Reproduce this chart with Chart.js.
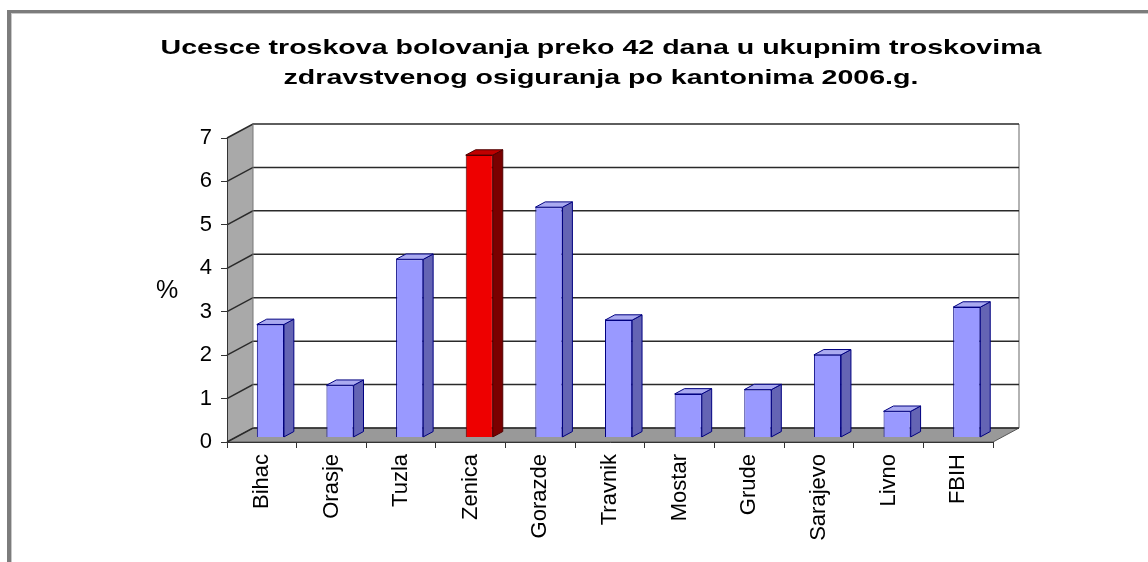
<!DOCTYPE html>
<html>
<head>
<meta charset="utf-8">
<script src="https://cdn.jsdelivr.net/npm/chart.js@4.4.1/dist/chart.umd.min.js"></script>
<style>
  html, body { margin: 0; padding: 0; background: #ffffff; }
  #wrap { width: 1148px; height: 562px; position: relative; }
</style>
</head>
<body>
<div id="wrap"><canvas id="chart" width="1148" height="562"></canvas></div>
<script>
// Cantons and their share (%) of sick-leave costs over 42 days
const categories = ['Bihac', 'Orasje', 'Tuzla', 'Zenica', 'Gorazde', 'Travnik', 'Mostar', 'Grude', 'Sarajevo', 'Livno', 'FBIH'];
const shareValues = [2.6, 1.2, 4.1, 6.5, 5.3, 2.7, 1.0, 1.1, 1.9, 0.6, 3.0];
const highlighted = 'Zenica';
const yTicks = [0, 1, 2, 3, 4, 5, 6, 7];
const titleLines = ['Ucesce troskova bolovanja preko 42 dana u ukupnim troskovima',
                    'zdravstvenog osiguranja po kantonima 2006.g.'];
const axisUnit = '%';

// 3D look: depth of the box and where the bars sit inside it
const DEPTH = { dx: 26, dy: -14 };
const BAR_FRONT = 0.33;  // fraction of depth where bar front faces stand
const BAR_DEPTH = 0.38;  // fraction of depth taken by each bar

const faceColors = categories.map(c => c === highlighted ? '#ee0000' : '#9999ff');
const sideColors = categories.map(c => c === highlighted ? '#7a0000' : '#6464b4');
const topColors  = categories.map(c => c === highlighted ? '#c00000' : '#aaaaf0');
const edgeColors = categories.map(c => c === highlighted ? '#500000' : '#000080');

const FONT = '"Liberation Sans", Arial, sans-serif';

const box3d = {
  id: 'box3d',
  beforeDraw(chart) {
    const { ctx, chartArea: a, scales } = chart;
    const y = scales.y;
    ctx.save();
    // outer frame (top and left edges)
    ctx.fillStyle = '#7c7c7c';
    ctx.fillRect(7, 10, 1148 - 7, 3);
    ctx.fillRect(7, 10, 4, 562 - 10);
    ctx.fillStyle = '#c8c8c8';
    ctx.fillRect(11, 13, 1148 - 11, 1);
    ctx.fillRect(11, 13, 1, 562 - 13);

    // two-line title, slightly widened
    ctx.fillStyle = '#000000';
    ctx.font = 'bold 21px ' + FONT;
    ctx.textAlign = 'center';
    ctx.textBaseline = 'middle';
    titleLines.forEach((line, i) => {
      ctx.save();
      ctx.translate(601, 48 + i * 30);
      ctx.scale(1.36, 1);
      ctx.fillText(line, 0, 0);
      ctx.restore();
    });

    const L = a.left, R = a.right, T = a.top, B = a.bottom;
    const dx = DEPTH.dx, dy = DEPTH.dy;
    // side wall
    ctx.fillStyle = '#a9a9a9';
    ctx.beginPath();
    ctx.moveTo(L, B); ctx.lineTo(L, T); ctx.lineTo(L + dx, T + dy); ctx.lineTo(L + dx, B + dy); ctx.closePath();
    ctx.fill();
    // floor
    ctx.fillStyle = '#999999';
    ctx.beginPath();
    ctx.moveTo(L, B); ctx.lineTo(R, B); ctx.lineTo(R + dx, B + dy); ctx.lineTo(L + dx, B + dy); ctx.closePath();
    ctx.fill();
    ctx.strokeStyle = '#555555';
    ctx.lineWidth = 1;
    ctx.stroke();
    // back wall right edge
    ctx.strokeStyle = '#9a9a9a';
    ctx.lineWidth = 1.5;
    ctx.beginPath();
    ctx.moveTo(R + dx, T + dy); ctx.lineTo(R + dx, B + dy);
    ctx.stroke();
    // grid lines on back wall and side wall
    ctx.strokeStyle = '#2a2a2a';
    ctx.lineWidth = 1.5;
    yTicks.forEach(v => {
      const py = y.getPixelForValue(v);
      ctx.beginPath();
      ctx.moveTo(L, py); ctx.lineTo(L + dx, py + dy); ctx.lineTo(R + dx, py + dy);
      ctx.stroke();
    });
    // back-left edge of the box
    ctx.strokeStyle = '#777777';
    ctx.lineWidth = 1;
    ctx.beginPath();
    ctx.moveTo(L + dx, T + dy); ctx.lineTo(L + dx, B + dy);
    ctx.stroke();
    // unit label
    ctx.fillStyle = '#000000';
    ctx.font = '25px ' + FONT;
    ctx.textAlign = 'center';
    ctx.textBaseline = 'middle';
    ctx.fillText(axisUnit, 167, 291);
    ctx.restore();
  },
  beforeDatasetsDraw(chart) {
    const ctx = chart.ctx;
    ctx.save();
    ctx.translate(DEPTH.dx * BAR_FRONT, DEPTH.dy * BAR_FRONT);
  },
  afterDatasetsDraw(chart) {
    const ctx = chart.ctx;
    const meta = chart.getDatasetMeta(0);
    const ddx = DEPTH.dx * BAR_DEPTH, ddy = DEPTH.dy * BAR_DEPTH;
    meta.data.forEach((bar, i) => {
      const { x, y, base, width } = bar.getProps(['x', 'y', 'base', 'width'], true);
      const l = x - width / 2, r = x + width / 2;
      ctx.lineWidth = 1;
      ctx.strokeStyle = edgeColors[i];
      // right side face
      ctx.fillStyle = sideColors[i];
      ctx.beginPath();
      ctx.moveTo(r, y); ctx.lineTo(r + ddx, y + ddy); ctx.lineTo(r + ddx, base + ddy); ctx.lineTo(r, base); ctx.closePath();
      ctx.fill(); ctx.stroke();
      // top face
      ctx.fillStyle = topColors[i];
      ctx.beginPath();
      ctx.moveTo(l, y); ctx.lineTo(l + ddx, y + ddy); ctx.lineTo(r + ddx, y + ddy); ctx.lineTo(r, y); ctx.closePath();
      ctx.fill(); ctx.stroke();
    });
    ctx.restore();
  }
};

new Chart(document.getElementById('chart'), {
  type: 'bar',
  data: {
    labels: categories,
    datasets: [{
      data: shareValues,
      backgroundColor: faceColors,
      borderColor: edgeColors,
      borderWidth: 1,
      categoryPercentage: 1,
      barPercentage: 0.39,
      clip: false
    }]
  },
  options: {
    responsive: false,
    animation: false,
    events: [],
    layout: { padding: { left: 0, right: 155, top: 138, bottom: 0 } },
    plugins: {
      legend: { display: false },
      tooltip: { enabled: false },
      title: { display: false }
    },
    scales: {
      x: {
        afterFit(s) { s.height = 120; },
        grid: { display: true, drawOnChartArea: false, drawTicks: true, tickLength: 6, color: '#333333', offset: true },
        border: { display: true, color: '#333333', width: 1 },
        ticks: {
          autoSkip: false, minRotation: 90, maxRotation: 90, padding: 6,
          color: '#000000', font: { family: FONT, size: 22 }
        }
      },
      y: {
        min: 0, max: 7,
        afterFit(s) { s.width = 227; },
        afterBuildTicks(s) { s.ticks = yTicks.map(v => ({ value: v })); },
        grid: { display: true, drawOnChartArea: false, drawTicks: true, tickLength: 6, color: '#333333' },
        border: { display: true, color: '#333333', width: 1 },
        ticks: { padding: 9, color: '#000000', font: { family: FONT, size: 22 } }
      }
    }
  },
  plugins: [box3d]
});
</script>
</body>
</html>
